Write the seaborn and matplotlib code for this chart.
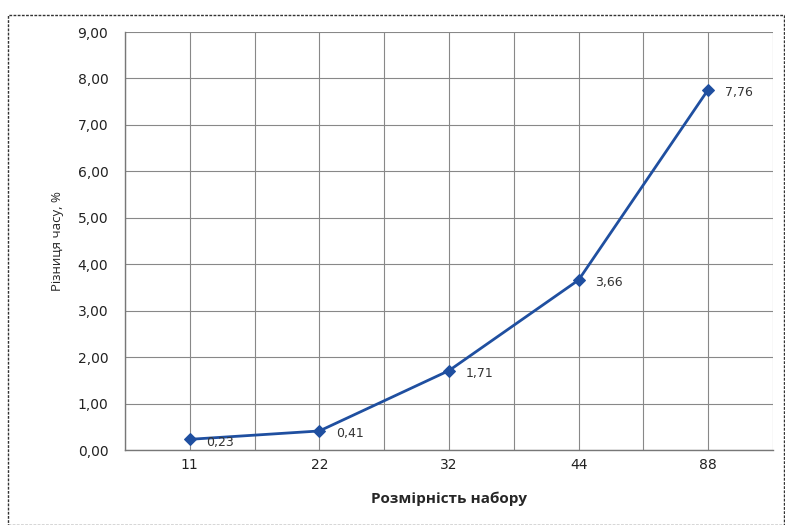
import matplotlib
matplotlib.use("Agg")
import matplotlib.pyplot as plt
import seaborn as sns
import pandas as pd
from matplotlib.patches import Rectangle

# data
sizes = ["11", "22", "32", "44", "88"]
time_diff = [0.23, 0.41, 1.71, 3.66, 7.76]
y_ticks = [0, 1, 2, 3, 4, 5, 6, 7, 8, 9]

df = pd.DataFrame({"pos": range(len(sizes)), "diff": time_diff})

sns.set_style("white")
plt.rcParams['font.family'] = ['DejaVu Sans']

fig = plt.figure(figsize=(7.85, 5.25), dpi=100)
ax = fig.add_axes([125 / 785, 1 - 450 / 525, 648 / 785, 418 / 525])

sns.lineplot(data=df, x="pos", y="diff", ax=ax, color="#1f4fa0", linewidth=2,
             marker="D", markersize=6, markeredgecolor="#1f4fa0")

for x, y in zip(df["pos"], df["diff"]):
    ax.annotate(f"{y:.2f}".replace(".", ","), (x, y), xytext=(12, -2),
                textcoords="offset points", ha="left", va="center",
                fontsize=9, color="#333333")

ax.set_xlim(-0.5, len(sizes) - 0.5)
ax.set_ylim(0, 9)
ax.set_xticks(range(len(sizes)))
ax.set_xticklabels(sizes)
ax.set_xticks([i - 0.5 for i in range(len(sizes) + 1)], minor=True)
ax.set_yticks(y_ticks)
ax.set_yticklabels([f"{v:.2f}".replace(".", ",") for v in y_ticks])

ax.grid(True, which="major", color="#888888", linewidth=0.8)
ax.grid(True, which="minor", axis="x", color="#888888", linewidth=0.8)
ax.tick_params(axis="x", which="major", length=0, pad=6, labelsize=10)
ax.tick_params(axis="x", which="minor", length=5, direction="out")
ax.tick_params(axis="y", length=4, direction="out", pad=8, labelsize=10)
ax.tick_params(axis="both", which="both", colors="#666666", labelcolor="#222222")

for side in ["top", "right"]:
    ax.spines[side].set_visible(False)
for side in ["left", "bottom"]:
    ax.spines[side].set_color("#777777")
    ax.spines[side].set_linewidth(1)

ax.set_xlabel("Розмірність набору", fontsize=11, fontweight="bold",
              family="Open Sans", labelpad=14)
ax.set_ylabel("Різниця часу, %", fontsize=9.5, family="Open Sans", labelpad=10)

# outer chart frame
fig.patches.append(Rectangle((8 / 785, 0), 776 / 785, 1 - 15 / 525,
                             transform=fig.transFigure, fill=False,
                             edgecolor="#333333", linewidth=1, linestyle=(0, (2, 1))))

fig.savefig("out.png", dpi=100)
